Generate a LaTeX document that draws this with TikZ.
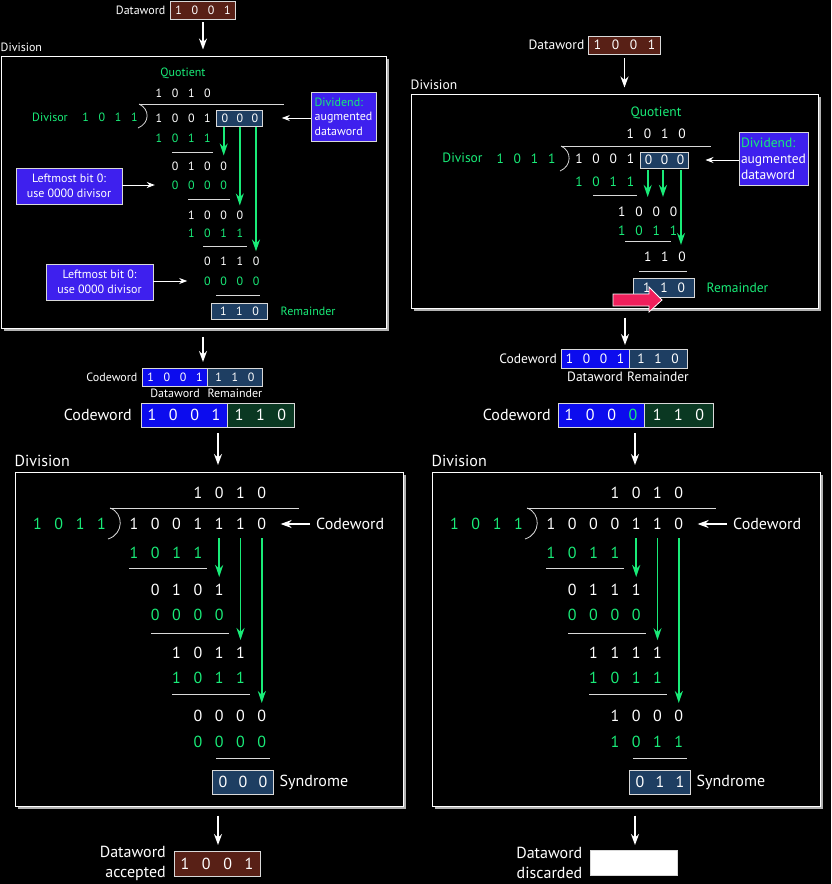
\documentclass[tikz,border=0pt]{standalone}
\usepackage{fontspec}
\setmainfont{PT Sans}
\usetikzlibrary{arrows.meta,positioning,shadows}

\definecolor{bitgreen}{RGB}{25,235,120}
\definecolor{wordbrown}{RGB}{88,32,22}
\definecolor{slate}{RGB}{30,62,98}
\definecolor{codeblue}{RGB}{12,12,238}
\definecolor{noteblue}{RGB}{62,32,238}
\definecolor{remgreen}{RGB}{10,56,34}
\definecolor{flagred}{RGB}{240,32,92}

\newlength{\bitw}
\setlength{\bitw}{16pt}
\newcommand{\bitrow}[2][\bitw]{\foreach \bitv in {#2}{\makebox[#1]{\bitv}}}

\tikzset{
    tl/.style={font=\fontsize{12}{14.5}\selectfont},     % first sketch
    tr/.style={font=\fontsize{13.5}{16}\selectfont},     % second sketch
    bg/.style={font=\fontsize{16}{20}\selectfont},       % checking part
    lbl/.style={inner sep=0pt, text=white},
    glbl/.style={inner sep=0pt, text=bitgreen},
    bits/.style={inner sep=0pt, text=white},
    gbits/.style={inner sep=0pt, text=bitgreen},
    wordbox/.style={draw=white!85!black, line width=0.8pt, inner sep=0pt,
        outer sep=0pt, text=white, minimum height=#1},
    panel/.style={draw=white, fill=black, line width=1pt,
        drop shadow={shadow xshift=3pt, shadow yshift=-3pt,
        fill=white!70!black, opacity=1}},
    rule/.style={draw=white!85!black, line width=0.8pt},
    flow/.style={draw=white, line width=1.3pt, -{Stealth[length=11pt,width=8pt]}},
    pointer/.style={draw=white, line width=0.8pt, -{Stealth[length=8pt,width=6pt]}},
    carry/.style={draw=bitgreen, line width=1.8pt, -{Stealth[length=12pt,width=8pt]}},
    note/.style={draw=white!85!black, line width=0.8pt, fill=noteblue,
        text=white, inner sep=2pt},
}

\begin{document}
\begin{tikzpicture}[x=1pt, y=-1pt]
\fill[black] (0,0) rectangle (831,884);
\useasboundingbox (0,0) rectangle (831,884);

% ===== encoder, first sketch =====
\setlength{\bitw}{16.2pt}
\node[wordbox=18pt, fill=wordbrown, minimum width=64pt, tl] (dwA) at (203,10) {\bitrow{1,0,0,1}};
\node[lbl, tl, left=5pt of dwA] (dwlabA) {Dataword};
\node[panel, minimum width=385pt, minimum height=272pt] (pA) at (193.5,192) {};
\node[lbl, tl, anchor=south west] (pAlab) at ([yshift=4pt]pA.north west) {Division};
\draw[flow, shorten <=3pt, shorten >=6pt] (dwA.south) -- (dwA.south |- pA.north);

\node[glbl, tl] (qlabA) at (183,73) {Quotient};
\node[bits, tl] (qA) at (183.2,93) {\bitrow{1,0,1,0}};
\node[glbl, tl] (dvlabA) at (50,117) {Divisor};
\node[gbits, tl] (dvA) at (110,117) {\bitrow{1,0,1,1}};
\node[bits, tl] (ddA) at (183.2,118) {\bitrow{1,0,0,1}};
\node[wordbox=16pt, fill=slate, minimum width=46pt, tl] (dlA) at (239.8,118) {\bitrow[15pt]{0,0,0}};
\draw[rule] (139,104) -- (284,104);
\draw[rule] (139,104) .. controls (150,109) and (150,123) .. (138,128);

\node[gbits, tl] (s1A) at (183.2,138) {\bitrow{1,0,1,1}};
\draw[rule] (172,152) -- (213,152);
\node[bits, tl] (r1A) at (199.4,166) {\bitrow{0,1,0,0}};
\node[gbits, tl] (s2A) at (199.4,185) {\bitrow{0,0,0,0}};
\draw[rule] (188,199) -- (230,199);
\node[bits, tl] (r2A) at (215.6,215) {\bitrow{1,0,0,0}};
\node[gbits, tl] (s3A) at (215.6,233) {\bitrow{1,0,1,1}};
\draw[rule] (203,246) -- (247,246);
\node[bits, tl] (r3A) at (231.8,261) {\bitrow{0,1,1,0}};
\node[gbits, tl] (s4A) at (231.8,281) {\bitrow{0,0,0,0}};
\draw[rule] (216,295) -- (260,295);
\node[wordbox=16pt, fill=slate, minimum width=56pt, tl] (remA) at (239.5,311) {\bitrow{1,1,0}};
\node[glbl, tl, right=13pt of remA] (remlabA) {Remainder};

% bits brought down
\coordinate (c5A) at (223.7,127);
\coordinate (c6A) at (239.8,127);
\coordinate (c7A) at (256,127);
\draw[carry, shorten >=6pt] (c5A) -- (c5A |- r1A.north);
\draw[carry, shorten >=5pt] (c6A) -- (c6A |- r2A.north);
\draw[carry, shorten >=5pt] (c7A) -- (c7A |- r3A.north);

% notes
\node[note, tl, align=left, minimum width=65pt, minimum height=49pt] (ndA) at (343.5,116.5)
    {\textcolor{bitgreen}{Dividend:}\\augmented\\dataword};
\draw[pointer, shorten >=19pt] (ndA.west |- dlA.east) -- (dlA.east);
\node[note, tl, align=center, minimum width=106pt, minimum height=36pt] (n1A) at (69,186)
    {Leftmost bit 0:\\use 0000 divisor};
\draw[pointer, shorten >=12pt] (n1A.east |- s2A.west) -- (s2A.west);
\node[note, tl, align=center, minimum width=107pt, minimum height=36pt] (n2A) at (99.5,282)
    {Leftmost bit 0:\\use 0000 divisor};
\draw[pointer, shorten >=12pt] (n2A.east |- s4A.west) -- (s4A.west);

% codeword made
\coordinate (inA) at (203,362);
\draw[flow, shorten <=8pt] (inA |- pA.south) -- (inA);
\node[wordbox=18pt, fill=codeblue, minimum width=64pt, tl] (cwdA) at (175,377) {\bitrow{1,0,0,1}};
\node[wordbox=18pt, fill=slate, minimum width=55pt, tl, right=0pt of cwdA] (cwrA) {\bitrow{1,1,0}};
\node[lbl, tl, left=5pt of cwdA] (cwlabA) {Codeword};
\node[lbl, tl, below=3pt of cwdA] (cwdlabA) {Dataword};
\node[lbl, tl, below=3pt of cwrA] (cwrlabA) {Remainder};

% ===== encoder, second sketch =====
\setlength{\bitw}{17.2pt}
\node[wordbox=18pt, fill=wordbrown, minimum width=69pt, tr] (dwB) at (624.5,45) {\bitrow[18pt]{1,0,0,1}};
\node[lbl, tr, left=4pt of dwB] (dwlabB) {Dataword};
\node[panel, minimum width=407pt, minimum height=214pt] (pB) at (614.5,201) {};
\node[lbl, tr, anchor=south west] (pBlab) at ([yshift=4pt]pB.north west) {Division};
\draw[flow, shorten <=4pt, shorten >=6pt] (dwB.south) -- (dwB.south |- pB.north);

\node[glbl, tr] (qlabB) at (656,113) {Quotient};
\node[bits, tr] (qB) at (656.2,134) {\bitrow{1,0,1,0}};
\draw[rule] (561,146) -- (711,146);
\draw[rule] (561,146) .. controls (572,151) and (572,166) .. (560,171);
\node[glbl, tr] (dvlabB) at (462.5,158) {Divisor};
\node[gbits, tr] (dvB) at (526,159) {\bitrow{1,0,1,1}};
\node[bits, tr] (ddB) at (604.75,159) {\bitrow{1,0,0,1}};
\node[wordbox=16pt, fill=slate, minimum width=48pt, tr] (dlB) at (664.5,160) {\bitrow[16pt]{0,0,0}};
\node[note, tr, align=left, minimum width=69pt, minimum height=53pt] (ndB) at (773.5,158.5)
    {\textcolor{bitgreen}{Dividend:}\\augmented\\dataword};
\draw[pointer, shorten >=17pt] (ndB.west |- dlB.east) -- (dlB.east);

\node[gbits, tr] (s1B) at (604.75,182) {\bitrow{1,0,1,1}};
\draw[rule] (593,195) -- (637,195);
\node[bits, tr] (r1B) at (647.7,212) {\bitrow{1,0,0,0}};
\node[gbits, tr] (s2B) at (647.7,231) {\bitrow{1,0,1,1}};
\draw[rule] (625,241) -- (671,241);
\node[bits, tr] (r2B) at (664.9,257) {\bitrow{1,1,0}};
\draw[rule] (639,271) -- (687,271);
\node[wordbox=19pt, fill=slate, minimum width=61pt, tr] (remB) at (664,287.5) {\bitrow{1,1,0}};
\node[glbl, tr, right=12pt of remB] (remlabB) {Remainder};
\fill[flagred, draw=white, line width=0.8pt] (613,294) -- (649,294) -- (649,287) -- (662,300)
    -- (649,312) -- (649,306) -- (613,306) -- cycle;

\coordinate (c5B) at (647.7,170);
\coordinate (c6B) at (663,170);
\coordinate (c7B) at (681,170);
\draw[carry, shorten >=10pt] (c5B) -- (c5B |- r1B.north);
\draw[carry, shorten >=10pt] (c6B) -- (c6B |- r1B.north);
\draw[carry, shorten >=7pt] (c7B) -- (c7B |- r2B.north);

\coordinate (inB) at (625,345);
\draw[flow, shorten <=9pt] (inB |- pB.south) -- (inB);
\node[wordbox=19pt, fill=codeblue, minimum width=68pt, tr] (cwdB) at (595,358.5) {\bitrow[17pt]{1,0,0,1}};
\node[wordbox=19pt, fill=slate, minimum width=58pt, tr, right=0pt of cwdB] (cwrB) {\bitrow[17pt]{1,1,0}};
\node[lbl, tr, left=4pt of cwdB] (cwlabB) {Codeword};
\node[lbl, tr, below=4pt of cwdB] (cwdlabB) {Dataword};
\node[lbl, tr, below=4pt of cwrB] (cwrlabB) {Remainder};

% ===== codewords received =====
\setlength{\bitw}{21.3pt}
\node[wordbox=24pt, fill=codeblue, minimum width=86pt, bg] (cwbA) at (184,415) {\bitrow{1,0,0,1}};
\node[wordbox=24pt, fill=remgreen, minimum width=67pt, bg, right=0pt of cwbA] (cwgA) {\bitrow{1,1,0}};
\node[lbl, bg, left=9pt of cwbA] (cwblabA) {Codeword};
\node[wordbox=24pt, fill=codeblue, minimum width=86pt, bg] (cwbB) at (601,415)
    {\bitrow{1,0,0,\textcolor{bitgreen}{0}}};
\node[wordbox=24pt, fill=remgreen, minimum width=69pt, bg, right=0pt of cwbB] (cwgB) {\bitrow{1,1,0}};
\node[lbl, bg, left=7pt of cwbB] (cwblabB) {Codeword};

% ===== checker, no error =====
\coordinate (inC) at (218,465);
\draw[flow, shorten <=6pt] (inC |- cwbA.south) -- (inC);
\node[panel, minimum width=388pt, minimum height=334pt] (pC) at (209,639) {};
\node[lbl, bg, anchor=south west] (pClab) at ([yshift=5pt]pC.north west) {Division};

\node[bits, bg] (qC) at (229.85,493) {\bitrow{1,0,1,0}};
\draw[rule] (110,508) -- (299,508);
\draw[rule] (110,508) .. controls (124,513) and (124,534) .. (108,539);
\node[gbits, bg] (dvC) at (69.5,524) {\bitrow{1,0,1,1}};
\node[bits, bg] (ddC) at (197.9,524) {\bitrow{1,0,0,1,1,1,0}};
\node[lbl, bg, anchor=west] (cwlabC) at (316,524) {Codeword};
\draw[flow, shorten <=6pt, shorten >=8pt] (cwlabC.west) -- (ddC.east);

\node[gbits, bg] (s1C) at (166,553) {\bitrow{1,0,1,1}};
\draw[rule] (129,568) -- (207,568);
\node[bits, bg] (r1C) at (187.25,590) {\bitrow{0,1,0,1}};
\node[gbits, bg] (s2C) at (187.25,615) {\bitrow{0,0,0,0}};
\draw[rule] (151,633) -- (229,633);
\node[bits, bg] (r2C) at (208.55,653) {\bitrow{1,0,1,1}};
\node[gbits, bg] (s3C) at (208.55,678) {\bitrow{1,0,1,1}};
\draw[rule] (172,694) -- (250,694);
\node[bits, bg] (r3C) at (229.85,716) {\bitrow{0,0,0,0}};
\node[gbits, bg] (s4C) at (229.85,742) {\bitrow{0,0,0,0}};
\draw[rule] (216,758) -- (270,758);
\node[wordbox=24pt, fill=slate, minimum width=61pt, bg] (synC) at (243,782) {\bitrow[20pt]{0,0,0}};
\node[lbl, bg, right=6pt of synC] (synlabC) {Syndrome};

\coordinate (c5C) at (219.2,538);
\coordinate (c6C) at (240.5,538);
\coordinate (c7C) at (261.8,538);
\draw[carry, shorten >=7pt] (c5C) -- (c5C |- r1C.north);
\draw[carry, shorten >=7pt] (c6C) -- (c6C |- r2C.north);
\draw[carry, shorten >=7pt] (c7C) -- (c7C |- r3C.north);

\coordinate (outC) at (218,845);
\draw[flow, shorten <=9pt] (outC |- pC.south) -- (outC);
\node[wordbox=25pt, fill=wordbrown, minimum width=86pt, bg] (accC) at (217,863.5) {\bitrow{1,0,0,1}};
\node[lbl, bg, align=right, left=8pt of accC] (acclabC) {Dataword\\accepted};

% ===== checker, corrupted =====
\begin{scope}[xshift=417pt]
\coordinate (inD) at (218,465);
\draw[flow, shorten <=6pt] (inD |- cwbB.south) -- (inD);
\node[panel, minimum width=388pt, minimum height=334pt] (pD) at (209,639) {};
\node[lbl, bg, anchor=south west] (pDlab) at ([yshift=5pt]pD.north west) {Division};

\node[bits, bg] (qD) at (229.85,493) {\bitrow{1,0,1,0}};
\draw[rule] (110,508) -- (299,508);
\draw[rule] (110,508) .. controls (124,513) and (124,534) .. (108,539);
\node[gbits, bg] (dvD) at (69.5,524) {\bitrow{1,0,1,1}};
\node[bits, bg] (ddD) at (197.9,524) {\bitrow{1,0,0,0,1,1,0}};
\node[lbl, bg, anchor=west] (cwlabD) at (316,524) {Codeword};
\draw[flow, shorten <=6pt, shorten >=8pt] (cwlabD.west) -- (ddD.east);

\node[gbits, bg] (s1D) at (166,553) {\bitrow{1,0,1,1}};
\draw[rule] (129,568) -- (207,568);
\node[bits, bg] (r1D) at (187.25,590) {\bitrow{0,1,1,1}};
\node[gbits, bg] (s2D) at (187.25,615) {\bitrow{0,0,0,0}};
\draw[rule] (151,633) -- (229,633);
\node[bits, bg] (r2D) at (208.55,653) {\bitrow{1,1,1,1}};
\node[gbits, bg] (s3D) at (208.55,678) {\bitrow{1,0,1,1}};
\draw[rule] (172,694) -- (250,694);
\node[bits, bg] (r3D) at (229.85,716) {\bitrow{1,0,0,0}};
\node[gbits, bg] (s4D) at (229.85,742) {\bitrow{1,0,1,1}};
\draw[rule] (216,758) -- (270,758);
\node[wordbox=24pt, fill=slate, minimum width=61pt, bg] (synD) at (243,782) {\bitrow[20pt]{0,1,1}};
\node[lbl, bg, right=6pt of synD] (synlabD) {Syndrome};

\coordinate (c5D) at (219.2,538);
\coordinate (c6D) at (240.5,538);
\coordinate (c7D) at (261.8,538);
\draw[carry, shorten >=7pt] (c5D) -- (c5D |- r1D.north);
\draw[carry, shorten >=7pt] (c6D) -- (c6D |- r2D.north);
\draw[carry, shorten >=7pt] (c7D) -- (c7D |- r3D.north);

\coordinate (outD) at (218,845);
\draw[flow, shorten <=9pt] (outD |- pD.south) -- (outD);
\node[wordbox=25pt, fill=white, minimum width=87pt] (disD) at (217,863) {};
\node[lbl, bg, align=right, left=8pt of disD] (dislabD) {Dataword\\discarded};
\end{scope}

\end{tikzpicture}
\end{document}
